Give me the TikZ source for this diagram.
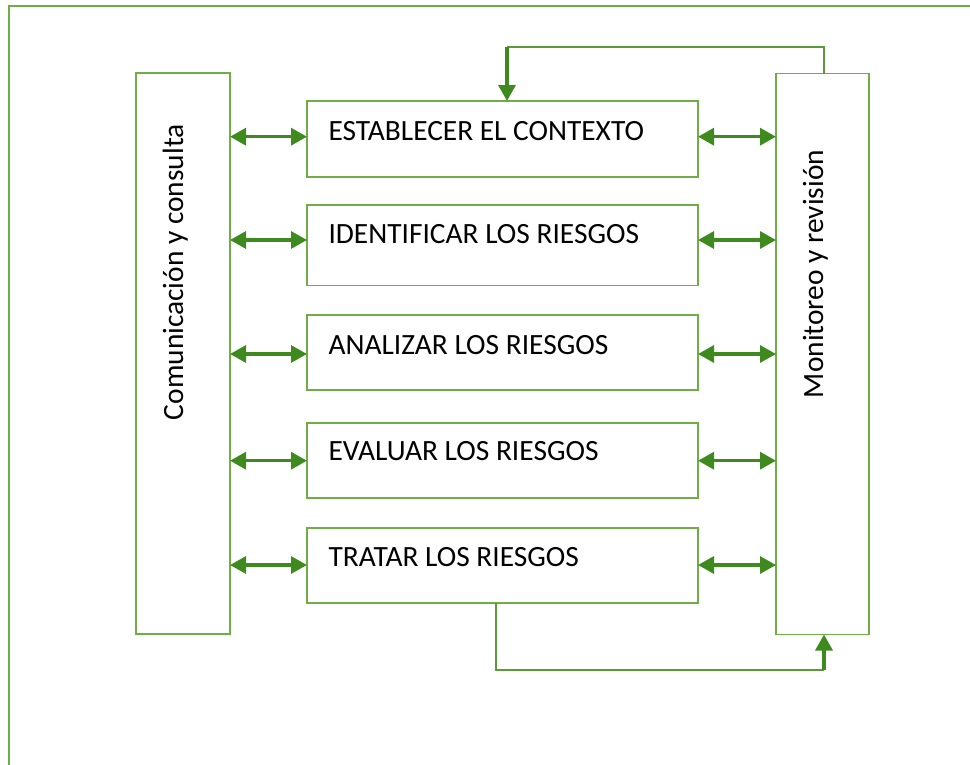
\documentclass[tikz,border=0pt]{standalone}
\usepackage{fontspec}
\setmainfont{Carlito}
\usetikzlibrary{arrows.meta}
\definecolor{boxgreen}{HTML}{70AD47}
\definecolor{arrgreen}{HTML}{3F8A1F}
\definecolor{lingreen}{HTML}{5A9A38}
\tikzset{
  box/.style={draw=boxgreen, line width=1.5pt, fill=white, inner sep=0pt, outer sep=0pt, anchor=north west},
  lbl/.style={inner sep=0pt, outer sep=0pt, font=\fontsize{29.4}{34}\selectfont, text=black},
  dbl/.style={draw=arrgreen, line width=3.2pt, {Triangle[length=16pt,width=17pt]}-{Triangle[length=16pt,width=17pt]}},
  sgl/.style={draw=arrgreen, line width=3.2pt, -{Triangle[length=16pt,width=17pt]}},
  thin/.style={draw=lingreen, line width=1.5pt}
}
\begin{document}
\begin{tikzpicture}[x=1pt,y=-1pt]
\useasboundingbox (0,0) rectangle (970,764);
% outer frame
\draw[draw=boxgreen, line width=1.5pt] (9,770) -- (9,6) -- (975,6);
% side boxes
\node[box, minimum width=94pt, minimum height=561pt] (L) at (136,73) {};
\node[box, minimum width=93pt, minimum height=561pt] (R) at (776,73.5) {};
\node[lbl, rotate=90, anchor=base west] (Lt) at (183,420) {Comunicación y consulta};
\node[lbl, rotate=90, anchor=base west] (Rt) at (823,398) {Monitoreo y revisión};
% middle boxes
\node[box, minimum width=391pt, minimum height=76pt] (b1) at (307,101) {};
\node[box, minimum width=391pt, minimum height=80.5pt] (b2) at (307,205) {};
\node[box, minimum width=391pt, minimum height=75pt] (b3) at (307,315) {};
\node[box, minimum width=391pt, minimum height=75pt] (b4) at (307,423) {};
\node[box, minimum width=391pt, minimum height=75pt] (b5) at (307,528) {};
\node[lbl, anchor=base west] (t1) at (328.5,140.7) {ESTABLECER EL CONTEXTO};
\node[lbl, anchor=base west] (t2) at (328.5,243.5) {IDENTIFICAR LOS RIESGOS};
\node[lbl, anchor=base west] (t3) at (328.5,354) {ANALIZAR LOS RIESGOS};
\node[lbl, anchor=base west] (t4) at (328.5,460.5) {EVALUAR LOS RIESGOS};
\node[lbl, anchor=base west] (t5) at (328.5,566.5) {TRATAR LOS RIESGOS};
% arrow heights
\coordinate (a1) at (500,136.7);
\coordinate (a2) at (500,240);
\coordinate (a3) at (500,354);
\coordinate (a4) at (500,460.7);
\coordinate (a5) at (500,565);
\foreach \i in {1,...,5}{
  \draw[dbl] (L.east |- a\i) -- (b\i.west |- a\i);
  \draw[dbl] (b\i.east |- a\i) -- (R.west |- a\i);
}
% feedback top
\coordinate (tc) at (824,47);
\coordinate (tl) at (507,47);
\draw[thin] (R.north -| tc) -- (tc) -- (tl);
\draw[sgl] (tl) -- (b1.north -| tl);
% feedback bottom
\coordinate (bl) at (496,670);
\coordinate (br) at (824,670);
\draw[thin] (b5.south -| bl) -- (bl) -- (br);
\draw[sgl] (br) -- (R.south -| br);
\end{tikzpicture}
\end{document}
